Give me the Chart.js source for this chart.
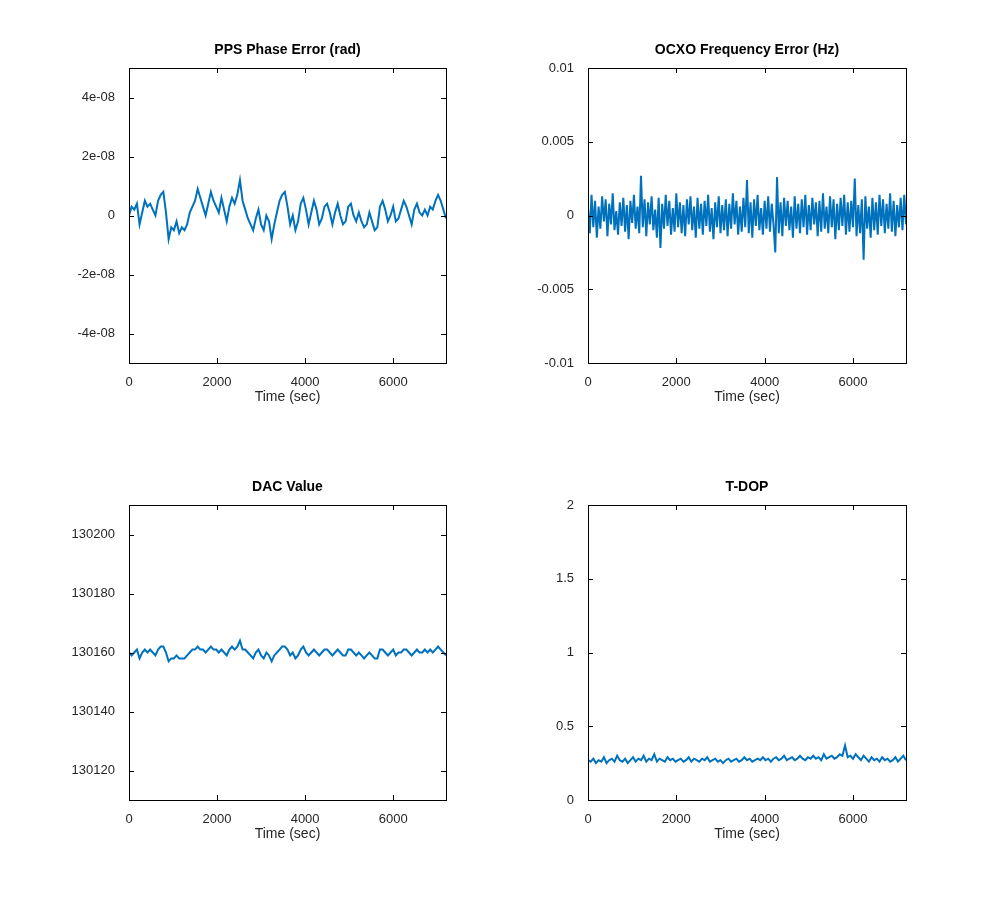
<!DOCTYPE html>
<html>
<head>
<meta charset="utf-8">
<script src="https://cdn.jsdelivr.net/npm/chart.js@4/dist/chart.umd.min.js"></script>
<style>
  body { margin: 0; background: #fff; }
  .panel { position: absolute; }
</style>
</head>
<body>
<div class="panel" style="left:0;top:0;width:480px;height:420px"><canvas id="c-phase"></canvas></div>
<div class="panel" style="left:500px;top:0;width:440px;height:420px"><canvas id="c-freq"></canvas></div>
<div class="panel" style="left:0;top:437px;width:480px;height:420px"><canvas id="c-dac"></canvas></div>
<div class="panel" style="left:500px;top:437px;width:440px;height:420px"><canvas id="c-tdop"></canvas></div>
<script>
// time axis
const xTicks = [0, 2000, 4000, 6000];
const coarseStep = 60;   // seconds between samples (phase, dac, tdop)
const fineStep = 40;     // seconds between samples (freq)

// PPS phase error, in units of 1e-9 rad
const phaseErr = [0, 3, 2, 4, -3, 1, 5, 3, 4, 2, 0, 5, 7, 8, 1, -8, -4, -5, -2, -6,
  -4, -5, -3, 1, 3, 5, 9, 6, 3, 0, 4, 8, 5, 3, 1, 6, 2, -2, 3, 6,
  4, 7, 12, 5, 2, -1, -3, -5, -1, 2, -3, -5, 0, -2, -8, -3, 1, 5, 7, 8,
  3, -3, 0, -5, -2, 4, 6, 2, -3, 1, 5, 2, -3, -1, 3, 4, 1, -3, 1, 4,
  0, -3, -2, 3, 4, 0, -2, 1, -2, -4, -3, 1, -2, -5, -4, 3, 5, 2, -2, 0,
  3, -2, -1, 2, 5, 3, 0, -3, 2, 4, 1, 0, 2, 0, 3, 2, 5, 7, 5, 2, -1];
const phaseTicks = [-4e-8, -2e-8, 0, 2e-8, 4e-8];

// OCXO frequency error, in units of 1e-4 Hz
const freqErr = [5, -12, 14, -8, 10, -15, 6, -9, 13, -4, 11, -14, 8, -6, 15, -10, 3, -13, 9, -7,
  12, -11, 7, -16, 10, -5, 14, -9, 6, -12, 27, -8, 11, -14, 9, -6, 13, -10, 4, -15,
  12, -22, 8, -9, 14, -7, 10, -13, 5, -11, 15, -8, 9, -12, 7, -14, 11, -6, 13, -10,
  6, -15, 12, -9, 8, -13, 10, -7, 14, -11, 5, -16, 9, -8, 13, -12, 7, -10, 11, -14,
  8, -9, 15, -6, 10, -13, 6, -11, 12, -8, 24, -12, 9, -15, 11, -7, 14, -10, 5, -13,
  10, -9, 13, -11, 8, -6, -25, 26, -12, 9, -14, 12, -7, 10, -10, 6, -15, 13, -9, 8,
  -12, 11, -8, 14, -13, 7, -10, 12, -6, 9, -14, 10, -11, 15, -9, 6, -12, 13, -8, 11,
  -16, 8, -10, 12, -7, 14, -13, 9, -11, 10, -8, 25, -14, 7, -12, 11, -30, 13, -9, 6,
  -15, 12, -10, 9, -13, 14, -7, 11, -12, 8, -9, 15, -11, 10, -14, 7, -8, 12, -10, 14, -6];
const freqTicks = [-0.01, -0.005, 0, 0.005, 0.01];

// DAC value, offset from 130160
const dacBase = 130160;
const dacOff = [0, -1, 0, 1, -2, 0, 1, 0, 1, 0, -1, 1, 2, 2, 0, -3, -2, -2, -1, -2,
  -2, -2, -1, 0, 1, 1, 2, 1, 1, 0, 1, 2, 1, 1, 0, 1, 0, -1, 1, 2,
  1, 2, 4, 1, 1, 0, -1, -2, 0, 1, -1, -2, 0, -1, -3, -1, 0, 1, 2, 2,
  1, -1, 0, -2, -1, 1, 2, 0, -1, 0, 1, 0, -1, 0, 1, 1, 0, -1, 0, 1,
  0, -1, -1, 1, 1, 0, -1, 0, -1, -2, -1, 0, -1, -2, -2, 1, 1, 0, -1, 0,
  1, -1, 0, 0, 1, 1, 0, -1, 0, 1, 0, 0, 1, 0, 1, 0, 1, 2, 1, 0, -1];
const dacTicks = [130120, 130140, 130160, 130180, 130200];

// T-DOP
const tdop = [0.27, 0.26, 0.28, 0.25, 0.27, 0.26, 0.29, 0.25, 0.27, 0.28, 0.26, 0.3, 0.27, 0.26, 0.28, 0.25, 0.27, 0.29, 0.26, 0.28,
  0.27, 0.3, 0.26, 0.28, 0.27, 0.31, 0.26, 0.28, 0.27, 0.26, 0.29, 0.27, 0.28, 0.26, 0.27, 0.28, 0.26, 0.27, 0.29, 0.26,
  0.28, 0.27, 0.26, 0.28, 0.27, 0.29, 0.26, 0.27, 0.28, 0.26, 0.27, 0.25, 0.27, 0.28, 0.26, 0.27, 0.28, 0.26, 0.27, 0.29,
  0.27, 0.28, 0.26, 0.27, 0.28, 0.27, 0.29, 0.27, 0.28, 0.26, 0.28, 0.29, 0.27, 0.28, 0.3, 0.27, 0.28, 0.29, 0.27, 0.28,
  0.3, 0.28, 0.27, 0.29, 0.28, 0.3, 0.28, 0.29, 0.27, 0.31, 0.28, 0.29, 0.3, 0.28, 0.29, 0.31, 0.3, 0.37, 0.29, 0.3,
  0.28, 0.31, 0.29, 0.27, 0.3, 0.28, 0.26, 0.29, 0.27, 0.28, 0.26, 0.29, 0.27, 0.28, 0.26, 0.27, 0.29, 0.26, 0.28, 0.3, 0.27];
const tdopTicks = [0, 0.5, 1, 1.5, 2];

const lineColor = '#0072bd';
const textColor = '#262626';
const font = { family: 'Liberation Sans, Arial, sans-serif', size: 13 };

// box, inward ticks on all four sides, title centred over the plot area
const boxTicks = {
    id: 'boxTicks',
    afterDraw(chart) {
        const { ctx, chartArea: a, scales } = chart;
        const len = 5;
        ctx.save();
        ctx.strokeStyle = '#000';
        ctx.lineWidth = 1;
        ctx.strokeRect(a.left + 0.5, a.top + 0.5, a.right - a.left, a.bottom - a.top);
        ctx.beginPath();
        scales.x.ticks.forEach(t => {
            const px = Math.round(scales.x.getPixelForValue(t.value)) + 0.5;
            ctx.moveTo(px, a.bottom); ctx.lineTo(px, a.bottom - len);
            ctx.moveTo(px, a.top); ctx.lineTo(px, a.top + len);
        });
        scales.y.ticks.forEach(t => {
            const py = Math.round(scales.y.getPixelForValue(t.value)) + 0.5;
            ctx.moveTo(a.left, py); ctx.lineTo(a.left + len, py);
            ctx.moveTo(a.right, py); ctx.lineTo(a.right - len, py);
        });
        ctx.stroke();
        ctx.fillStyle = '#000';
        ctx.font = 'bold 14px ' + font.family;
        ctx.textAlign = 'center';
        ctx.textBaseline = 'alphabetic';
        ctx.fillText(chart.options.plugins.boxTicks.title, (a.left + a.right) / 2, a.top - 14);
        ctx.restore();
    }
};

function makeChart(id, title, xs, ys, yMin, yMax, yTicks, yFmt, yWidth) {
    new Chart(document.getElementById(id), {
        type: 'line',
        data: { datasets: [{ data: xs.map((x, i) => ({ x, y: ys[i] })), borderColor: lineColor, borderWidth: 2, pointRadius: 0, tension: 0 }] },
        options: {
            responsive: true, maintainAspectRatio: false, animation: false,
            layout: { padding: { top: 68, right: 34, left: 0, bottom: 14 } },
            plugins: {
                legend: { display: false }, tooltip: { enabled: false },
                boxTicks: { title }
            },
            scales: {
                x: {
                    type: 'linear', min: 0, max: 7200,
                    afterBuildTicks: s => { s.ticks = xTicks.map(v => ({ value: v })); },
                    afterFit: s => { s.height = 43; },
                    grid: { display: false }, border: { display: false },
                    ticks: { color: textColor, font, padding: 4, callback: v => String(v) },
                    title: { display: true, text: 'Time (sec)', color: textColor, font: { ...font, size: 14 }, padding: 0 }
                },
                y: {
                    min: yMin, max: yMax,
                    afterBuildTicks: s => { s.ticks = yTicks.map(v => ({ value: v })); },
                    afterFit: s => { s.width = yWidth; },
                    grid: { display: false }, border: { display: false },
                    ticks: { color: textColor, font, padding: 6, callback: yFmt }
                }
            }
        },
        plugins: [boxTicks]
    });
}

const xsCoarse = phaseErr.map((_, i) => i * coarseStep);
const xsFine = freqErr.map((_, i) => i * fineStep);

makeChart('c-phase', 'PPS Phase Error (rad)', xsCoarse, phaseErr.map(v => v * 1e-9), -5e-8, 5e-8, phaseTicks,
    v => { const m = Math.round(v * 1e8); return m === 0 ? '0' : m + 'e-08'; }, 129);
makeChart('c-freq', 'OCXO Frequency Error (Hz)', xsFine, freqErr.map(v => v * 1e-4), -0.01, 0.01, freqTicks,
    v => String(+v.toFixed(3)), 88);
makeChart('c-dac', 'DAC Value', xsCoarse, dacOff.map(v => dacBase + v), 130110, 130210, dacTicks,
    v => String(v), 129);
makeChart('c-tdop', 'T-DOP', xsCoarse, tdop, 0, 2, tdopTicks,
    v => String(v), 88);
</script>
</body>
</html>
